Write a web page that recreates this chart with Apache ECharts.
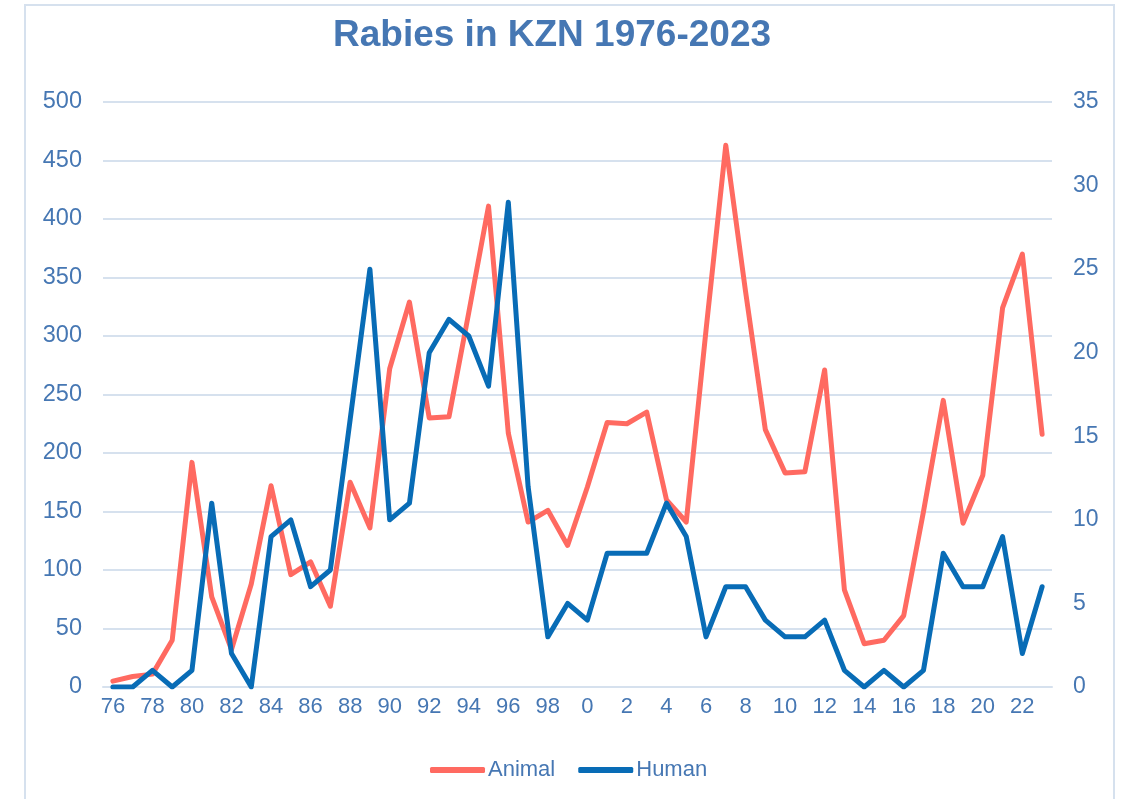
<!DOCTYPE html>
<html>
<head>
    <meta charset="UTF-8">
    <title>Rabies in KZN 1976-2023</title>
    <script src="https://cdn.jsdelivr.net/npm/echarts@6/dist/echarts.min.js"></script>
    <style>
        html, body { margin: 0; padding: 0; background: #fff; }
        #main { width: 1125px; height: 799px; }
    </style>
</head>
<body>
    <div id="main"></div>

    <script>
        // years 1976-2023, shown as two-digit labels like the original
        const years = [
            '76', '77', '78', '79', '80', '81', '82', '83', '84', '85', '86', '87',
            '88', '89', '90', '91', '92', '93', '94', '95', '96', '97', '98', '99',
            '0', '1', '2', '3', '4', '5', '6', '7', '8', '9', '10', '11',
            '12', '13', '14', '15', '16', '17', '18', '19', '20', '21', '22', '23'
        ];

        // animal cases (left axis)
        const animal = [
            5, 9, 11, 40, 192, 77, 32, 88, 172, 96, 107, 69,
            175, 136, 272, 329, 230, 231, 320, 411, 217, 141, 151, 121,
            171, 226, 225, 235, 160, 141, 305, 463, 338, 220, 183, 184,
            271, 83, 37, 40, 61, 150, 245, 140, 181, 324, 370, 216
        ];

        // human cases (right axis)
        const human = [
            0, 0, 1, 0, 1, 11, 2, 0, 9, 10, 6, 7,
            16, 25, 10, 11, 20, 22, 21, 18, 29, 12, 3, 5,
            4, 8, 8, 8, 11, 9, 3, 6, 6, 4, 3, 3,
            4, 1, 0, 1, 0, 1, 8, 6, 6, 9, 2, 6
        ];

        const textColor = '#4677b3';
        const gridColor = '#d6e1ee';
        const font = '"Liberation Sans", Arial, sans-serif';

        const chart = echarts.init(document.getElementById('main'));
        const option = {
            animation: false,
            backgroundColor: '#fff',
            graphic: [{
                type: 'rect',
                shape: { x: 25, y: 5, width: 1089, height: 820 },
                style: { fill: 'none', stroke: gridColor, lineWidth: 2 },
                silent: true
            }],
            title: {
                text: 'Rabies in KZN 1976-2023',
                left: 328,
                top: 12,
                textStyle: {
                    color: textColor,
                    fontFamily: font,
                    fontWeight: 'bold',
                    fontSize: 37
                }
            },
            legend: {
                data: ['Animal', 'Human'],
                left: 425,
                top: 754,
                icon: 'roundRect',
                itemWidth: 55,
                itemHeight: 6,
                itemGap: 23,
                textStyle: {
                    color: textColor,
                    fontFamily: font,
                    fontSize: 22,
                    padding: [0, 0, 0, -2]
                }
            },
            grid: {
                left: 103,
                right: 73,
                top: 102,
                bottom: 112
            },
            xAxis: {
                type: 'category',
                data: years,
                boundaryGap: true,
                axisTick: { show: false },
                axisLine: { lineStyle: { color: gridColor, width: 2 } },
                axisLabel: {
                    interval: 1,
                    color: textColor,
                    fontFamily: font,
                    fontSize: 22,
                    margin: 9
                }
            },
            yAxis: [{
                type: 'value',
                min: 0,
                max: 500,
                interval: 50,
                axisLine: { show: false },
                axisTick: { show: false },
                splitLine: { lineStyle: { color: gridColor, width: 2 } },
                axisLabel: {
                    color: textColor,
                    fontFamily: font,
                    fontSize: 23.5,
                    margin: 21
                }
            }, {
                type: 'value',
                min: 0,
                max: 35,
                interval: 5,
                axisLine: { show: false },
                axisTick: { show: false },
                splitLine: { show: false },
                axisLabel: {
                    color: textColor,
                    fontFamily: font,
                    fontSize: 23,
                    margin: 21
                }
            }],
            series: [{
                name: 'Animal',
                type: 'line',
                yAxisIndex: 0,
                data: animal,
                symbol: 'none',
                lineStyle: { width: 5, color: '#ff6a61', cap: 'round', join: 'round' },
                itemStyle: { color: '#ff6a61' }
            }, {
                name: 'Human',
                type: 'line',
                yAxisIndex: 1,
                data: human,
                symbol: 'none',
                lineStyle: { width: 5, color: '#086cb6', cap: 'round', join: 'round' },
                itemStyle: { color: '#086cb6' }
            }]
        };

        chart.setOption(option);
    </script>
</body>
</html>
